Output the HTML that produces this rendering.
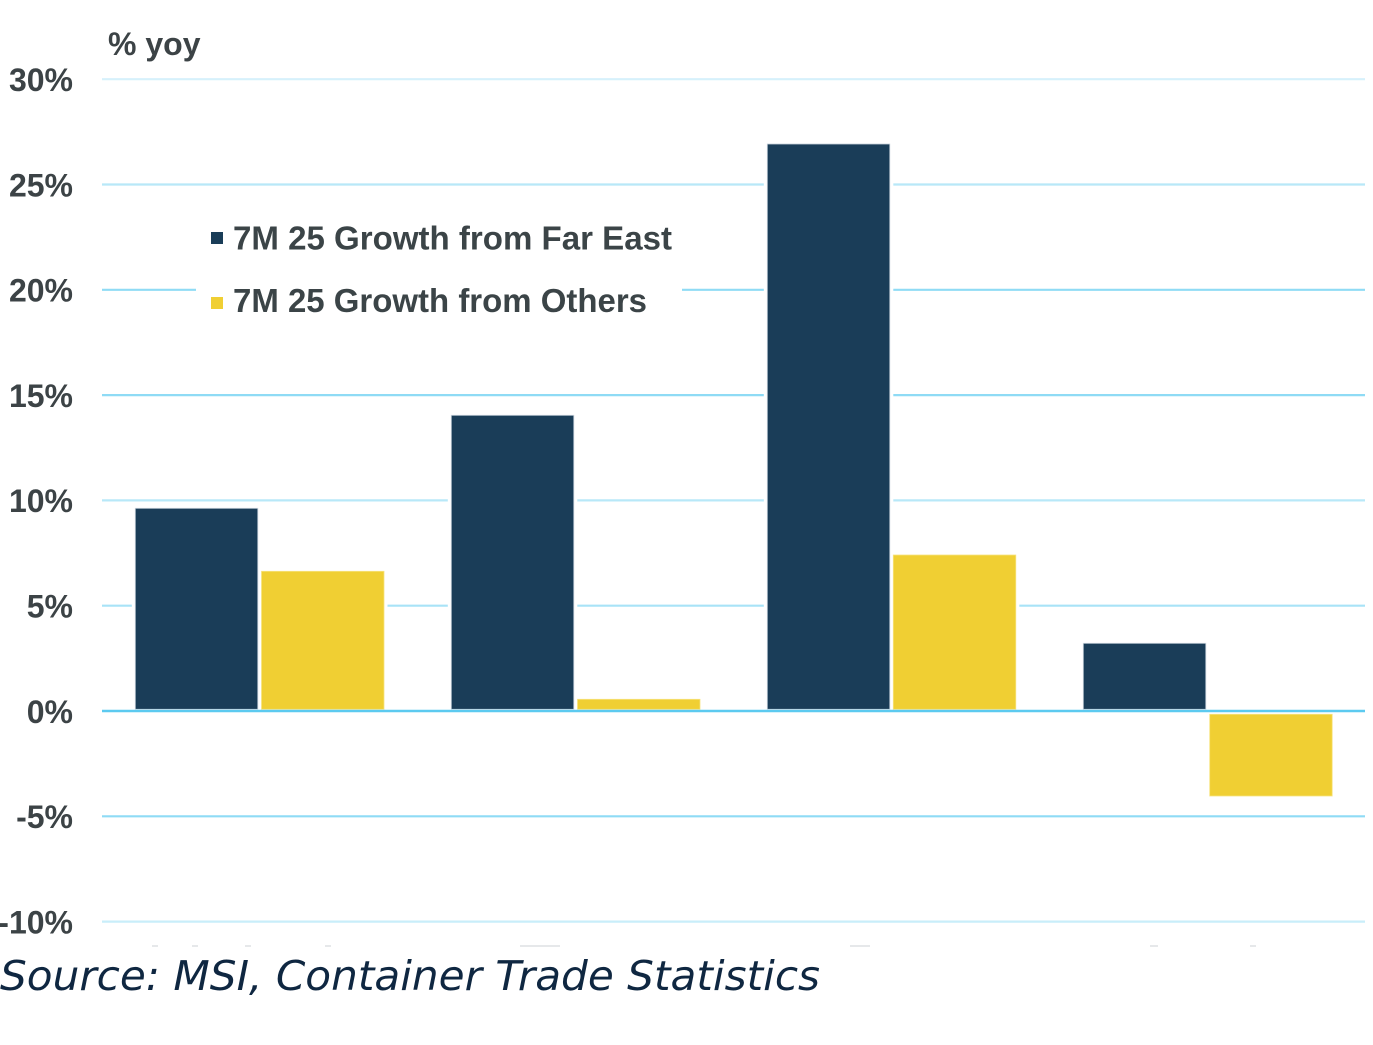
<!DOCTYPE html>
<html>
<head>
<meta charset="utf-8">
<style>
  html,body{margin:0;padding:0;background:#ffffff;}
  svg{display:block;}
</style>
</head>
<body>
<svg width="1373" height="1045" viewBox="0 0 1373 1045" xmlns="http://www.w3.org/2000/svg">
  <rect x="0" y="0" width="1373" height="1045" fill="#ffffff"/>

  <!-- gridlines -->
  <g stroke-width="2.2">
    <line x1="102" y1="79.2" x2="1365" y2="79.2" stroke="#d6f1fb"/>
    <line x1="102" y1="184.5" x2="1365" y2="184.5" stroke="#b8e8f8"/>
    <line x1="102" y1="289.8" x2="1365" y2="289.8" stroke="#8fdbf5"/>
    <line x1="102" y1="395.1" x2="1365" y2="395.1" stroke="#8fdbf5"/>
    <line x1="102" y1="500.4" x2="1365" y2="500.4" stroke="#b8e8f8"/>
    <line x1="102" y1="605.7" x2="1365" y2="605.7" stroke="#a8e3f7"/>
    <line x1="102" y1="816.3" x2="1365" y2="816.3" stroke="#8fdbf5"/>
    <line x1="102" y1="921.6" x2="1365" y2="921.6" stroke="#c9eefa"/>
  </g>

  <!-- white halos around bars -->
  <g fill="#ffffff">
    <rect x="131.8" y="504.8" width="129.5" height="206"/>
    <rect x="258" y="567.8" width="129.5" height="143"/>
    <rect x="447.8" y="411.8" width="129.5" height="299"/>
    <rect x="574" y="695.8" width="129.5" height="15"/>
    <rect x="763.8" y="140.5" width="129.5" height="570"/>
    <rect x="889.8" y="551.5" width="129.5" height="159"/>
    <rect x="1079.8" y="639.8" width="129.5" height="71"/>
    <rect x="1206.2" y="711" width="129.5" height="88.5"/>
  </g>

  <!-- bars -->
  <g stroke="#c9d3dc" stroke-width="0.8">
    <rect x="135.3" y="508.3" width="122.5" height="201" fill="#1a3d58"/>
    <rect x="767.3" y="144" width="122.5" height="565.3" fill="#1a3d58"/>
    <rect x="451.3" y="415.3" width="122.5" height="294" fill="#1a3d58"/>
    <rect x="1083.3" y="643.3" width="122.5" height="66" fill="#1a3d58"/>
  </g>
  <g stroke="#f7e37f" stroke-width="0.8">
    <rect x="261.5" y="571.3" width="122.5" height="138" fill="#f0cf33"/>
    <rect x="577.5" y="699.3" width="122.5" height="10" fill="#f0cf33"/>
    <rect x="893.3" y="555" width="122.5" height="154.3" fill="#f0cf33"/>
    <rect x="1209.7" y="714.3" width="122.5" height="81.7" fill="#f0cf33"/>
  </g>

  <!-- zero line -->
  <line x1="102" y1="711" x2="1365" y2="711" stroke="#5ccaf0" stroke-width="2.6"/>

  <!-- legend -->
  <rect x="196" y="205" width="486" height="120" fill="#ffffff"/>
  <rect x="211" y="232" width="12" height="12" fill="#1a3d58"/>
  <rect x="211" y="297" width="12" height="12" fill="#f0cf33"/>
  <g font-family="Liberation Sans, Arial, sans-serif" font-weight="bold" font-size="33" fill="#3b4447">
    <text x="233" y="249.5" textLength="439" lengthAdjust="spacingAndGlyphs">7M 25 Growth from Far East</text>
    <text x="233" y="312" textLength="414" lengthAdjust="spacingAndGlyphs">7M 25 Growth from Others</text>
  </g>

  <!-- y axis labels -->
  <g font-family="Liberation Sans, Arial, sans-serif" font-weight="bold" font-size="32" fill="#3c4346" text-anchor="end">
    <text x="73" y="91">30%</text>
    <text x="73" y="196.5">25%</text>
    <text x="73" y="301.5">20%</text>
    <text x="73" y="407">15%</text>
    <text x="73" y="512">10%</text>
    <text x="73" y="617.5">5%</text>
    <text x="73" y="723">0%</text>
    <text x="73" y="828">-5%</text>
    <text x="73" y="933.5">-10%</text>
  </g>
  <text x="108" y="55" font-family="Liberation Sans, Arial, sans-serif" font-weight="bold" font-size="32" fill="#3c4346">% yoy</text>

  <!-- faint cut-off category label remnants -->
  <g fill="#e6e8ea">
    <rect x="152" y="945" width="6" height="2"/>
    <rect x="192" y="945" width="6" height="2"/>
    <rect x="245" y="945" width="6" height="2"/>
    <rect x="325" y="945" width="6" height="2"/>
    <rect x="520" y="945" width="40" height="2"/>
    <rect x="850" y="945" width="20" height="2"/>
    <rect x="1150" y="945" width="8" height="2"/>
    <rect x="1250" y="945" width="6" height="2"/>
  </g>

  <!-- source -->
  <text x="0" y="990" font-family="DejaVu Sans, Verdana, sans-serif" font-style="italic" font-size="41" fill="#0f2741" textLength="820" lengthAdjust="spacingAndGlyphs">Source: MSI, Container Trade Statistics</text>
</svg>
</body>
</html>
